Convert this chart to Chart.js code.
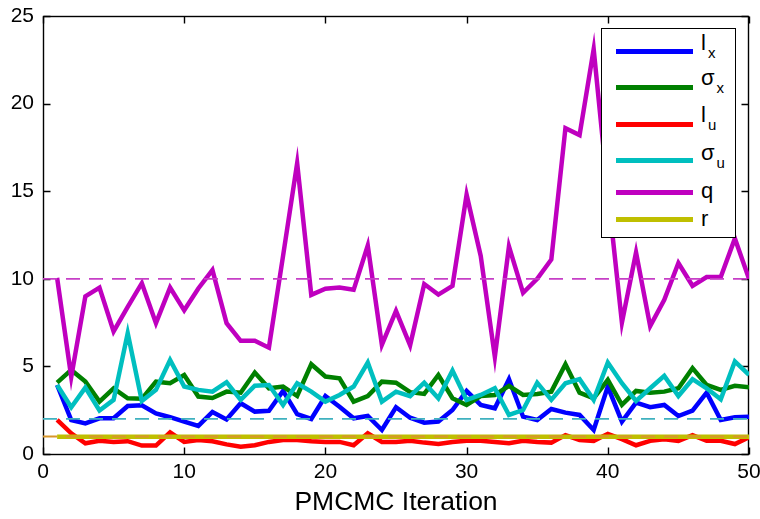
<!DOCTYPE html>
<html><head><meta charset="utf-8">
<script src="https://cdn.jsdelivr.net/npm/chart.js@4.4.1/dist/chart.umd.min.js"></script>
<style>
html,body{margin:0;padding:0;background:#fff;}
#wrap{position:relative;width:760px;height:519px;}
#legend{position:absolute;left:601px;top:28px;width:133px;height:208px;border:1px solid #000;background:#fff;font-family:"Liberation Sans",Arial,sans-serif;color:#000;}
.sw{position:absolute;left:14px;width:77px;height:5px;}
.lab{position:absolute;left:99px;font-size:22px;line-height:22px;white-space:nowrap;}
.lab sub{font-size:15px;vertical-align:baseline;position:relative;top:8px;margin-left:2px;}
</style></head>
<body>
<div id="wrap">
<canvas id="c" width="760" height="519"></canvas>
<div id="legend"></div>
</div>
<script>
// ---- data ----
const iterations = [1,2,3,4,5,6,7,8,9,10,11,12,13,14,15,16,17,18,19,20,21,22,23,24,25,26,27,28,29,30,31,32,33,34,35,36,37,38,39,40,41,42,43,44,45,46,47,48,49,50];
const lx = [3.94,1.94,1.75,2.04,2.04,2.74,2.78,2.32,2.1,1.85,1.6,2.4,1.97,2.9,2.42,2.47,3.6,2.27,2.0,3.31,2.7,2.04,2.17,1.37,2.67,2.07,1.79,1.85,2.51,3.6,2.8,2.61,4.27,2.13,1.94,2.57,2.36,2.23,1.37,3.85,1.85,2.93,2.67,2.8,2.17,2.48,3.5,1.94,2.1,2.13];
const sigmaX = [4.07,4.8,4.13,2.99,3.75,3.18,3.15,4.13,4.04,4.51,3.28,3.2,3.56,3.5,4.65,3.75,3.85,3.31,5.12,4.42,4.32,2.99,3.31,4.13,4.07,3.53,3.43,4.51,3.18,2.8,3.31,3.37,3.89,3.37,3.43,3.56,5.12,3.5,3.18,4.23,2.8,3.6,3.5,3.56,3.75,4.9,3.94,3.66,3.89,3.81];
const lu = [1.95,1.18,0.61,0.75,0.69,0.73,0.48,0.48,1.24,0.69,0.8,0.73,0.55,0.42,0.5,0.69,0.8,0.8,0.73,0.69,0.69,0.5,1.18,0.69,0.69,0.75,0.65,0.57,0.69,0.75,0.75,0.69,0.61,0.75,0.69,0.65,1.08,0.8,0.75,1.15,0.85,0.5,0.75,0.84,0.75,1.08,0.75,0.75,0.57,0.95];
const sigmaU = [3.94,2.67,3.79,2.48,3.09,6.9,3.03,3.66,5.37,3.85,3.66,3.56,4.1,3.09,3.9,3.94,2.8,4.04,3.56,2.99,3.37,3.85,5.22,2.99,3.56,3.3,4.07,3.18,4.76,3.09,3.37,3.75,2.23,2.51,4.07,3.09,4.04,4.27,3.09,5.22,4.04,3.03,3.75,4.46,3.31,4.27,3.75,3.12,5.28,4.51];
const q = [10.05,4.4,9.0,9.5,7.0,8.4,9.75,7.47,9.5,8.2,9.45,10.5,7.47,6.46,6.46,6.07,11.3,16.6,9.08,9.43,9.5,9.37,11.9,6.23,8.17,6.2,9.7,9.1,9.6,14.8,11.3,5.55,11.85,9.2,10.0,11.1,18.6,18.2,23.1,15.0,7.5,11.5,7.3,8.8,10.9,9.6,10.1,10.1,12.3,10.0];
const r = [0.99,0.99,0.99,0.99,0.99,0.99,0.99,0.99,0.99,0.99,0.99,0.99,0.99,0.99,0.99,0.99,0.99,0.99,0.99,0.99,0.99,0.99,0.99,0.99,0.99,0.99,0.99,0.99,0.99,0.99,0.99,0.99,0.99,0.99,0.99,0.99,0.99,0.99,0.99,0.99,0.99,0.99,0.99,0.99,0.99,0.99,0.99,0.99,0.99,0.99];
const trueLevels = [10, 2, 1];           // true q, true sigma_u, true l_u / r
const xTicks = [0,10,20,30,40,50];
const yTicks = [0,5,10,15,20,25];
const seriesNames = ['l','σ','l','σ','q','r'];
const seriesSubs  = ['x','x','u','u','',''];
const xAxisTitle = 'PMCMC Iteration';

// ---- styles ----
const seriesColors = ['#0000ff','#008000','#ff0000','#00bfbf','#bf00bf','#bfbf00'];
const trueColors = ['#c63fc6','#3fb1bf','#d8962a'];
const seriesData = [lx, sigmaX, lu, sigmaU, q, r];

const datasets = seriesData.map((arr, k) => ({
  label: seriesNames[k] + seriesSubs[k],
  data: iterations.map((it, i) => ({x: it, y: arr[i]})),
  borderColor: seriesColors[k],
  borderWidth: 4.5,
  pointRadius: 0,
  tension: 0,
  fill: false,
  order: 10 - k
}));
trueLevels.forEach((lev, k) => datasets.push({
  label: 'true' + k,
  data: [{x: xTicks[0], y: lev}, {x: xTicks[xTicks.length-1], y: lev}],
  borderColor: trueColors[k],
  borderWidth: 1.8,
  borderDash: [14, 9],
  pointRadius: 0,
  fill: false,
  order: 0
}));

const framePlugin = {
  id: 'frame',
  beforeDatasetsDraw(chart) {
    const {ctx, scales: {x, y}} = chart;
    const L = Math.round(x.getPixelForValue(xTicks[0])) + 0.5;
    const R = Math.round(x.getPixelForValue(xTicks[xTicks.length-1])) - 0.5;
    const T = Math.round(y.getPixelForValue(yTicks[yTicks.length-1])) + 0.5;
    const B = Math.round(y.getPixelForValue(yTicks[0])) + 0.5;
    ctx.save();
    ctx.strokeStyle = '#000';
    ctx.lineWidth = 1.4;
    ctx.strokeRect(L, T, R - L, B - T);
    const tl = 7;
    ctx.beginPath();
    xTicks.forEach(v => {
      const px = Math.round(x.getPixelForValue(v)) + 0.5;
      ctx.moveTo(px, B); ctx.lineTo(px, B - tl);
      ctx.moveTo(px, T); ctx.lineTo(px, T + tl);
    });
    yTicks.forEach(v => {
      const py = Math.round(y.getPixelForValue(v)) + 0.5;
      ctx.moveTo(L, py); ctx.lineTo(L + tl, py);
      ctx.moveTo(R, py); ctx.lineTo(R - tl, py);
    });
    ctx.stroke();
    ctx.restore();
  }
};

new Chart(document.getElementById('c'), {
  type: 'line',
  data: { datasets },
  plugins: [framePlugin],
  options: {
    responsive: false,
    animation: false,
    devicePixelRatio: 1,
    layout: { padding: { top: 16, right: 11, left: 0, bottom: 0 } },
    plugins: { legend: { display: false }, tooltip: { enabled: false } },
    scales: {
      x: {
        type: 'linear', min: 0, max: 50,
        afterBuildTicks: s => { s.ticks = xTicks.map(v => ({value: v})); },
        ticks: { font: { family: '"Liberation Sans", Arial, sans-serif', size: 21 }, color: '#000', padding: 6, maxRotation: 0, autoSkip: false },
        grid: { display: false, drawTicks: false },
        border: { display: false },
        title: { display: true, text: xAxisTitle, color: '#000', font: { family: '"Liberation Sans", Arial, sans-serif', size: 26.5 }, padding: { top: 0, bottom: 0 } },
        afterFit: s => { s.height = 65; s.paddingLeft = 0; s.paddingRight = 0; }
      },
      y: {
        min: 0, max: 25,
        afterBuildTicks: s => { s.ticks = yTicks.map(v => ({value: v})); },
        ticks: { font: { family: '"Liberation Sans", Arial, sans-serif', size: 21 }, color: '#000', padding: 9 },
        grid: { display: false, drawTicks: false },
        border: { display: false },
        afterFit: s => { s.width = 43; s.paddingTop = 0; s.paddingBottom = 0; }
      }
    }
  }
});

// ---- legend (HTML so subscripts stay real text) ----
const legendLineY = [22, 58, 95, 131, 163, 190];   // centers of sample lines, px inside box
const legendBaseY = [21, 56, 93, 131, 169, 197];   // text baselines, px inside box
const leg = document.getElementById('legend');
seriesNames.forEach((nm, k) => {
  const sw = document.createElement('div');
  sw.className = 'sw';
  sw.style.top = (legendLineY[k] - 2.5) + 'px';
  sw.style.background = seriesColors[k];
  leg.appendChild(sw);
  const lab = document.createElement('div');
  lab.className = 'lab';
  lab.style.top = (legendBaseY[k] - 18) + 'px';
  lab.textContent = nm;
  if (seriesSubs[k]) {
    const sb = document.createElement('sub');
    sb.textContent = seriesSubs[k];
    lab.appendChild(sb);
  }
  leg.appendChild(lab);
});
</script>
</body></html>
